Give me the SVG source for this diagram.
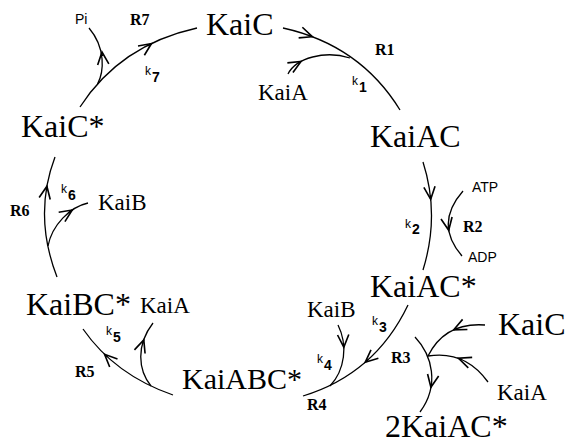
<svg xmlns="http://www.w3.org/2000/svg" width="570" height="443" viewBox="0 0 570 443">
<style>
.big{font-family:"Liberation Serif","Times New Roman",serif;font-size:32px;fill:#000}
.mid{font-family:"Liberation Serif","Times New Roman",serif;font-size:23px;fill:#000}
.r{font-family:"Liberation Serif","Times New Roman",serif;font-size:16px;font-weight:bold;fill:#000}
.s{font-family:"Liberation Sans",Arial,sans-serif;font-size:14px;fill:#000}
.k{font-family:"Liberation Sans",Arial,sans-serif;font-size:12px;fill:#000}
.sub{font-family:"Liberation Sans",Arial,sans-serif;font-size:14px;font-weight:bold;fill:#000}
.c{fill:none;stroke:#000;stroke-width:1.3}
</style>
<defs>
<marker id="a" markerUnits="userSpaceOnUse" markerWidth="20" markerHeight="20" refX="0" refY="0" viewBox="-12 -8 14 16" orient="auto">
<path d="M-10,-4.5 L0,0 L-10,4.5" fill="none" stroke="#000" stroke-width="1.3"/>
</marker>
</defs>
<g id="nodes">
<g id="KaiC"><text class="big" x="206" y="35">KaiC</text></g>
<g id="KaiAC"><text class="big" x="370" y="147">KaiAC</text></g>
<g id="KaiACstar"><text class="big" x="370" y="297">KaiAC*</text></g>
<g id="KaiABCstar"><text class="big" x="182" y="389" style="font-size:30px">KaiABC*</text></g>
<g id="KaiBCstar"><text class="big" x="26" y="315">KaiBC*</text></g>
<g id="KaiCstar"><text class="big" x="21" y="137">KaiC*</text></g>
<g id="KaiC2"><text class="big" x="498" y="335">KaiC</text></g>
<g id="twoKaiACstar"><text class="big" x="385" y="437">2KaiAC*</text></g>
<g id="KaiA1"><text class="mid" x="258" y="100">KaiA</text></g>
<g id="KaiB1"><text class="mid" x="98" y="210">KaiB</text></g>
<g id="KaiA2"><text class="mid" x="140" y="313">KaiA</text></g>
<g id="KaiB2"><text class="mid" x="307" y="317">KaiB</text></g>
<g id="KaiA3"><text class="mid" x="497" y="400">KaiA</text></g>
<g id="Pi"><text class="s" x="75" y="24">Pi</text></g>
<g id="ATP"><text class="s" x="472" y="192">ATP</text></g>
<g id="ADP"><text class="s" x="468" y="262">ADP</text></g>
</g>
<g id="labels">
<text class="r" x="130" y="25">R7</text>
<text class="r" x="375" y="55">R1</text>
<text class="r" x="463" y="232">R2</text>
<text class="r" x="391" y="363">R3</text>
<text class="r" x="307" y="410">R4</text>
<text class="r" x="75" y="377">R5</text>
<text class="r" x="10" y="216">R6</text>
<text class="k" x="145" y="75">k</text><text class="sub" x="152" y="82">7</text>
<text class="k" x="352" y="85">k</text><text class="sub" x="359" y="92">1</text>
<text class="k" x="405" y="228">k</text><text class="sub" x="412" y="234">2</text>
<text class="k" x="372" y="325">k</text><text class="sub" x="379" y="332">3</text>
<text class="k" x="317" y="363">k</text><text class="sub" x="324" y="370">4</text>
<text class="k" x="106" y="335">k</text><text class="sub" x="113" y="342">5</text>
<text class="k" x="61" y="193">k</text><text class="sub" x="68" y="200">6</text>
</g>
<g id="connectors">
<path class="c" d="M80,107 Q120,45 197,28"/>
<path class="c" d="M148,45.9 L151.5,43.5" marker-end="url(#a)"/>
<path class="c" d="M97.5,84 C104,72 106,48 89,28"/>
<path class="c" d="M102.4,56 L102,52" marker-end="url(#a)"/>
<path class="c" d="M283,28 Q360,45 400,110"/>
<path class="c" d="M308.3,35.3 L312.3,36.7" marker-end="url(#a)"/>
<path class="c" d="M288,74 C296,58 325,50 350,58"/>
<path class="c" d="M297.5,63.5 L301,61.5" marker-end="url(#a)"/>
<path class="c" d="M423,162 Q440,215 423,270"/>
<path class="c" d="M430.3,195.3 L430.7,199.3" marker-end="url(#a)"/>
<path class="c" d="M463,191 Q434,224 462,256"/>
<path class="c" d="M448,226.3 L448.7,230.3" marker-end="url(#a)"/>
<path class="c" d="M408,305 Q375,374 303,396"/>
<path class="c" d="M368.3,359.6 L365.25,362.25" marker-end="url(#a)"/>
<path class="c" d="M338,325 C348,345 345,370 330,386"/>
<path class="c" d="M343.6,343.2 L343.8,347.2" marker-end="url(#a)"/>
<path class="c" d="M415,337 C432,355 440,385 420,412"/>
<path class="c" d="M431.6,383.4 L430.9,387.3" marker-end="url(#a)"/>
<path class="c" d="M485,325 Q445,322 428,356"/>
<path class="c" d="M457.3,328.1 L453.7,329.8" marker-end="url(#a)"/>
<path class="c" d="M488,382 Q465,350 428,356"/>
<path class="c" d="M462.3,359.7 L458.5,358.3" marker-end="url(#a)"/>
<path class="c" d="M173,395 Q115,375 83,329"/>
<path class="c" d="M107.5,357.1 L104.6,354.3" marker-end="url(#a)"/>
<path class="c" d="M151,386 C138,370 136,345 153,323"/>
<path class="c" d="M142.5,343.7 L143.8,339.9" marker-end="url(#a)"/>
<path class="c" d="M57,277 Q33,215 55,157"/>
<path class="c" d="M46.2,190.1 L46.9,186.2" marker-end="url(#a)"/>
<path class="c" d="M48,246 C52,225 70,207 88,203"/>
<path class="c" d="M68.9,212.2 L72.2,210" marker-end="url(#a)"/>
</g>
</svg>
